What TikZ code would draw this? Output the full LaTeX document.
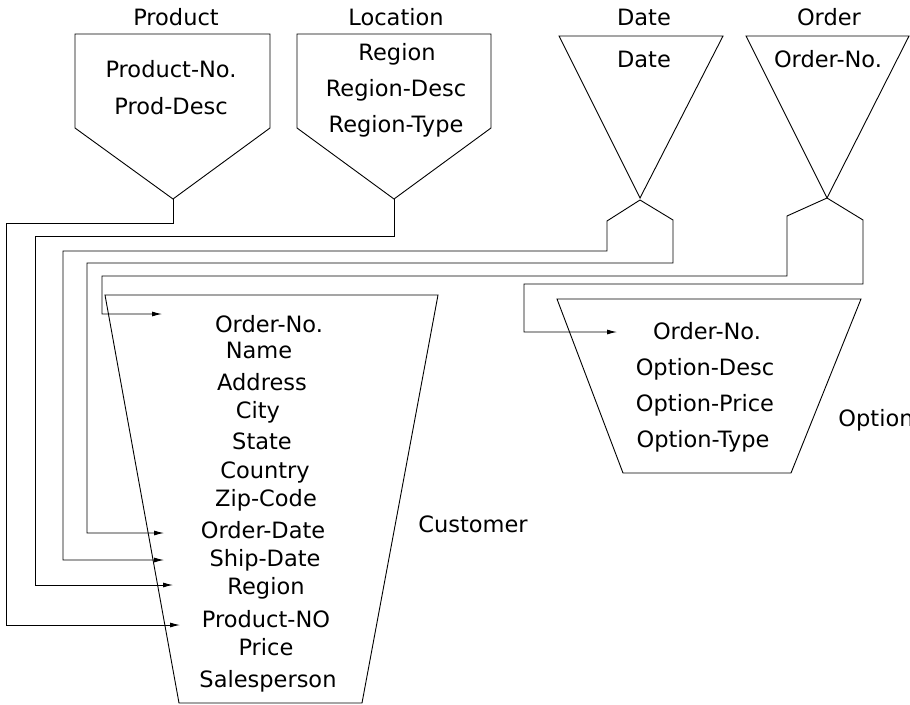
\documentclass[tikz,border=0pt]{standalone}
\usepackage{fontspec}
\setmainfont{DejaVu Sans}
\usetikzlibrary{arrows.meta}
\begin{document}
\begin{tikzpicture}[x=1pt,y=-1pt,line width=0.9pt,
  box/.style={draw,line join=miter},
  lbl/.style={font=\fontsize{22.5}{26}\selectfont,inner sep=0pt,anchor=base},
  conn/.style={draw,-{Latex[length=10pt,width=5pt]}}]
\useasboundingbox (0,0) rectangle (910,704);
% entity shapes
\draw[box] (75,34)--(270,34)--(270,128)--(173,199)--(75,128)--cycle;
\draw[box] (297,34)--(491,34)--(491,128)--(394,199)--(297,128)--cycle;
\draw[box] (559,36)--(723,36)--(640,198)--cycle;
\draw[box] (746,36)--(909,36)--(827,198)--cycle;
\draw[box] (105,295)--(438,295)--(362,703)--(179,703)--cycle;
\draw[box] (557,299)--(861,299)--(791,473)--(623,473)--cycle;
% tips
\coordinate (prodTip) at (173,199);
\coordinate (locTip) at (394,199);
\coordinate (dateTip) at (640,200);
\coordinate (ordTip) at (827,198);
% titles
\node[lbl] (tProduct) at (176,25) {Product};
\node[lbl] (tLocation) at (396,25) {Location};
\node[lbl] (tDate) at (644,25) {Date};
\node[lbl] (tOrder) at (829,25) {Order};
\node[lbl,anchor=base west] (tCustomer) at (418,532) {Customer};
\node[lbl,anchor=base west] (tOption) at (838,426) {Option};
% Product attributes
\node[lbl] (pNo) at (171,77) {Product-No.};
\node[lbl] (pDesc) at (171,114) {Prod-Desc};
% Location attributes
\node[lbl] (lReg) at (397,60) {Region};
\node[lbl] (lDesc) at (396,96) {Region-Desc};
\node[lbl] (lType) at (396,132) {Region-Type};
% Date / Order
\node[lbl] (dDate) at (644,67) {Date};
\node[lbl] (oNo) at (828,67) {Order-No.};
% Customer attributes
\node[lbl] (cOrder) at (269,332) {Order-No.};
\node[lbl] (cName) at (259,358) {Name};
\node[lbl] (cAddr) at (262,390) {Address};
\node[lbl] (cCity) at (258,418) {City};
\node[lbl] (cState) at (262,449) {State};
\node[lbl] (cCountry) at (265,478) {Country};
\node[lbl] (cZip) at (266,506) {Zip-Code};
\node[lbl] (cODate) at (263,538) {Order-Date};
\node[lbl] (cSDate) at (265,566) {Ship-Date};
\node[lbl] (cRegion) at (266,594) {Region};
\node[lbl] (cProd) at (266,627) {Product-NO};
\node[lbl] (cPrice) at (266,655) {Price};
\node[lbl] (cSales) at (268,687) {Salesperson};
% Option attributes
\node[lbl] (xNo) at (707,339) {Order-No.};
\node[lbl] (xDesc) at (705,375) {Option-Desc};
\node[lbl] (xPrice) at (705,411) {Option-Price};
\node[lbl] (xType) at (703,447) {Option-Type};
% arrow targets
\coordinate (aOrder) at (162,314);
\coordinate (aODate) at (164,533);
\coordinate (aSDate) at (164,560);
\coordinate (aRegion) at (173,585);
\coordinate (aProd) at (180,625);
\coordinate (aOpt) at (617,332);
% connectors
\draw[conn] (prodTip)--(173,223)--(6,223)--(6,625)--(aProd);
\draw[conn] (locTip)--(394,236)--(35,236)--(35,585)--(aRegion);
\draw[conn] (dateTip)--(607,221)--(607,251)--(63,251)--(63,560)--(aSDate);
\draw[conn] (dateTip)--(673,220)--(673,263)--(87,263)--(87,533)--(aODate);
\draw[conn] (ordTip)--(787,216)--(787,276)--(102,276)--(102,314)--(aOrder);
\draw[conn] (ordTip)--(863,220)--(863,284)--(524,284)--(524,332)--(aOpt);
\end{tikzpicture}
\end{document}
